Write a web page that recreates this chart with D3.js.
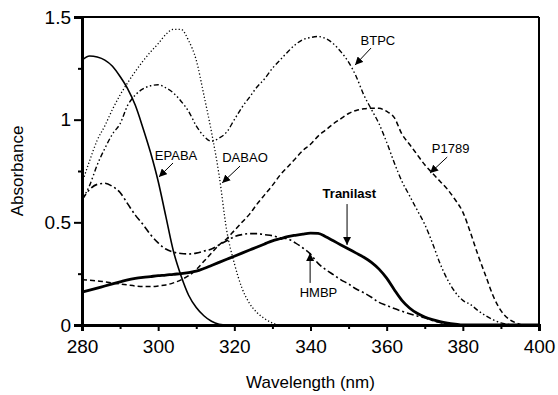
<!DOCTYPE html>
<html>
<head>
<meta charset="utf-8">
<script src="https://cdn.jsdelivr.net/npm/d3@7"></script>
<style>
  body { margin: 0; background: #fff; }
  svg { display: block; font-family: Arial, "Liberation Sans", sans-serif; }
</style>
</head>
<body>
<svg id="chart" width="558" height="395"></svg>
<script>
// wavelength grid (nm)
const wavelengths = [
  280, 282, 284, 286, 288, 290, 292, 294, 296, 298,
  300, 302, 304, 306, 308, 310, 312, 314, 316, 318,
  320, 322, 324, 326, 328, 330, 332, 334, 336, 338,
  340, 342, 344, 346, 348, 350, 352, 354, 356, 358,
  360, 362, 364, 366, 368, 370, 372, 374, 376, 378,
  380, 382, 384, 386, 388, 390, 392, 394, 396, 398,
  400
];

const epaba = [
  1.29, 1.31, 1.305, 1.29, 1.26, 1.21, 1.15, 1.07, 0.96, 0.84,
  0.70, 0.53, 0.36, 0.24, 0.145, 0.085, 0.045, 0.018, 0.004, 0,
  0, 0, 0, 0, 0, 0, 0, 0, 0, 0,
  0, 0, 0, 0, 0, 0, 0, 0, 0, 0,
  0, 0, 0, 0, 0, 0, 0, 0, 0, 0,
  0, 0, 0, 0, 0, 0, 0, 0, 0, 0,
  0
];

const dabao = [
  0.69, 0.80, 0.90, 0.97, 1.05, 1.12, 1.18, 1.235, 1.285, 1.33,
  1.37, 1.415, 1.44, 1.44, 1.385, 1.29, 1.12, 0.94, 0.73, 0.46,
  0.30, 0.18, 0.105, 0.06, 0.03, 0.01, 0, 0, 0, 0,
  0, 0, 0, 0, 0, 0, 0, 0, 0, 0,
  0, 0, 0, 0, 0, 0, 0, 0, 0, 0,
  0, 0, 0, 0, 0, 0, 0, 0, 0, 0,
  0
];

const btpc = [
  0.61, 0.68, 0.78, 0.86, 0.93, 0.98, 1.07, 1.12, 1.15, 1.165,
  1.17, 1.155, 1.13, 1.09, 1.04, 0.97, 0.92, 0.895, 0.91, 0.94,
  1.0, 1.06, 1.11, 1.16, 1.20, 1.25, 1.29, 1.33, 1.365, 1.39,
  1.40, 1.405, 1.395, 1.37, 1.33, 1.28, 1.21, 1.12, 1.05, 0.98,
  0.89, 0.79, 0.70, 0.63, 0.56, 0.49, 0.40, 0.30, 0.22, 0.16,
  0.12, 0.10, 0.07, 0.045, 0.025, 0.01, 0.003, 0, 0, 0,
  0
];

const hmbp = [
  0.61, 0.66, 0.685, 0.69, 0.675, 0.645, 0.59, 0.535, 0.49, 0.44,
  0.40, 0.37, 0.355, 0.348, 0.346, 0.35, 0.36, 0.37, 0.39, 0.41,
  0.43, 0.44, 0.445, 0.445, 0.44, 0.435, 0.425, 0.42, 0.40, 0.375,
  0.345, 0.30, 0.27, 0.245, 0.22, 0.20, 0.175, 0.157, 0.135, 0.11,
  0.095, 0.08, 0.067, 0.055, 0.044, 0.035, 0.022, 0.012, 0.004, 0,
  0, 0, 0, 0, 0, 0, 0, 0, 0, 0,
  0
];

const p1789 = [
  0.22, 0.218, 0.215, 0.21, 0.205, 0.20, 0.195, 0.19, 0.187, 0.187,
  0.19, 0.195, 0.205, 0.22, 0.24, 0.27, 0.31, 0.35, 0.39, 0.42,
  0.46, 0.50, 0.54, 0.59, 0.635, 0.68, 0.73, 0.77, 0.81, 0.85,
  0.88, 0.92, 0.95, 0.98, 1.005, 1.03, 1.045, 1.053, 1.056, 1.055,
  1.04, 1.01, 0.93, 0.88, 0.83, 0.78, 0.74, 0.70, 0.66, 0.61,
  0.55, 0.45, 0.34, 0.24, 0.14, 0.07, 0.03, 0.01, 0, 0,
  0
];

const tranilast = [
  0.16, 0.17, 0.18, 0.19, 0.20, 0.21, 0.22, 0.227, 0.232, 0.236,
  0.24, 0.243, 0.247, 0.25, 0.255, 0.262, 0.275, 0.29, 0.305, 0.32,
  0.335, 0.35, 0.365, 0.38, 0.395, 0.41, 0.42, 0.43, 0.437, 0.443,
  0.447, 0.446, 0.43, 0.41, 0.39, 0.37, 0.35, 0.33, 0.305, 0.272,
  0.228, 0.172, 0.12, 0.083, 0.057, 0.039, 0.026, 0.016, 0.009, 0.004,
  0, 0, 0, 0, 0, 0, 0, 0, 0, 0,
  0
];

const xTicks = [280, 300, 320, 340, 360, 380, 400];
const xMinorTicks = [290, 310, 330, 350, 370, 390];
const yTicks = [0, 0.5, 1, 1.5];
const yTickLabels = ['0', '0.5', '1', '1.5'];
const yMinorTicks = [0.25, 0.75, 1.25];

// label text, label anchor, arrow start, arrow tip (data units)
const labels = [
  { name: 'EPABA', tx: 304.7, ty: 0.804, ax: 303.9, ay: 0.789, bx: 300.2, by: 0.721, bold: false },
  { name: 'DABAO', tx: 322.8, ty: 0.794, ax: 321.5, ay: 0.774, bx: 316.8, by: 0.692, bold: false },
  { name: 'BTPC', tx: 357.7, ty: 1.364, ax: 355.9, ay: 1.349, bx: 351.7, by: 1.266, bold: false },
  { name: 'P1789', tx: 376.8, ty: 0.838, ax: 375.9, ay: 0.818, bx: 371.4, by: 0.740, bold: false },
  { name: 'Tranilast', tx: 350.2, ty: 0.619, ax: 349.6, ay: 0.589, bx: 349.6, by: 0.39, bold: true },
  { name: 'HMBP', tx: 342.1, ty: 0.136, ax: 339.9, ay: 0.205, bx: 339.9, by: 0.351, bold: false }
];

const series = [
  { name: 'DABAO', values: dabao, width: 1.3, dash: '1.2,2.2' },
  { name: 'BTPC', values: btpc, width: 1.4, dash: '5,2.5,1.5,2.5,1.5,2.5' },
  { name: 'HMBP', values: hmbp, width: 1.6, dash: '7,3,2,3' },
  { name: 'P1789', values: p1789, width: 1.5, dash: '5,3' },
  { name: 'EPABA', values: epaba, width: 1.6, dash: null },
  { name: 'Tranilast', values: tranilast, width: 2.8, dash: null }
];

const margin = { top: 17, right: 19, bottom: 70, left: 82 };
const width = 558 - margin.left - margin.right;
const height = 395 - margin.top - margin.bottom;

const svg = d3.select('#chart');
const g = svg.append('g').attr('transform', `translate(${margin.left},${margin.top})`);

const x = d3.scaleLinear().domain([280, 400]).range([0, width]);
const y = d3.scaleLinear().domain([0, 1.5]).range([height, 0]);

svg.append('defs')
  .append('marker')
  .attr('id', 'arrow')
  .attr('viewBox', '0 0 10 10')
  .attr('refX', 10)
  .attr('refY', 5)
  .attr('markerWidth', 8)
  .attr('markerHeight', 8)
  .attr('markerUnits', 'userSpaceOnUse')
  .attr('orient', 'auto')
  .append('path')
  .attr('d', 'M0,0L10,5L0,10Z')
  .attr('fill', '#000');

// curves
const line = d3.line()
  .x((d, i) => x(wavelengths[i]))
  .y(d => y(d))
  .curve(d3.curveMonotoneX);

g.selectAll('.curve')
  .data(series)
  .enter()
  .append('path')
  .attr('class', 'curve')
  .attr('fill', 'none')
  .attr('stroke', '#000')
  .attr('stroke-width', d => d.width)
  .attr('stroke-dasharray', d => d.dash)
  .attr('d', d => line(d.values));

// frame top/right
g.append('line').attr('x1', 0).attr('x2', width).attr('y1', 0).attr('y2', 0)
  .attr('stroke', '#000').attr('stroke-width', 2);
g.append('line').attr('x1', width).attr('x2', width).attr('y1', 0).attr('y2', height)
  .attr('stroke', '#000').attr('stroke-width', 2);

// axes
const xAxis = g.append('g')
  .attr('transform', `translate(0,${height})`)
  .call(d3.axisBottom(x).tickValues(xTicks).tickSize(6).tickPadding(9).tickFormat(d3.format('d')));
const xMinor = g.append('g')
  .attr('transform', `translate(0,${height})`)
  .call(d3.axisBottom(x).tickValues(xMinorTicks).tickSize(4).tickFormat(''));

const yAxis = g.append('g')
  .call(d3.axisLeft(y).tickValues(yTicks).tickSize(8).tickPadding(3)
    .tickFormat((d, i) => yTickLabels[i]));
const yMinor = g.append('g')
  .call(d3.axisLeft(y).tickValues(yMinorTicks).tickSize(4).tickFormat(''));

[xAxis, xMinor, yAxis, yMinor].forEach(a => {
  a.select('.domain').attr('stroke', '#000').attr('stroke-width', 3);
  a.selectAll('.tick line').attr('stroke', '#000').attr('stroke-width', 2);
  a.selectAll('.tick text')
    .attr('fill', '#000')
    .style('font-size', '19px')
    .style('font-family', 'Arial, "Liberation Sans", sans-serif');
});

// axis titles
svg.append('text')
  .attr('x', margin.left + width / 2)
  .attr('y', 388)
  .attr('text-anchor', 'middle')
  .style('font-size', '17px')
  .text('Wavelength (nm)');

svg.append('text')
  .attr('transform', `translate(23,${margin.top + height / 2}) rotate(-90)`)
  .attr('text-anchor', 'middle')
  .style('font-size', '17px')
  .text('Absorbance');

// annotations
const ann = g.selectAll('.ann').data(labels).enter().append('g').attr('class', 'ann');

ann.append('text')
  .attr('x', d => x(d.tx))
  .attr('y', d => y(d.ty))
  .attr('text-anchor', 'middle')
  .style('font-size', '13px')
  .style('font-weight', d => d.bold ? 'bold' : 'normal')
  .text(d => d.name);

ann.append('line')
  .attr('x1', d => x(d.ax))
  .attr('y1', d => y(d.ay))
  .attr('x2', d => x(d.bx))
  .attr('y2', d => y(d.by))
  .attr('stroke', '#000')
  .attr('stroke-width', 1)
  .attr('marker-end', 'url(#arrow)');
</script>
</body>
</html>
